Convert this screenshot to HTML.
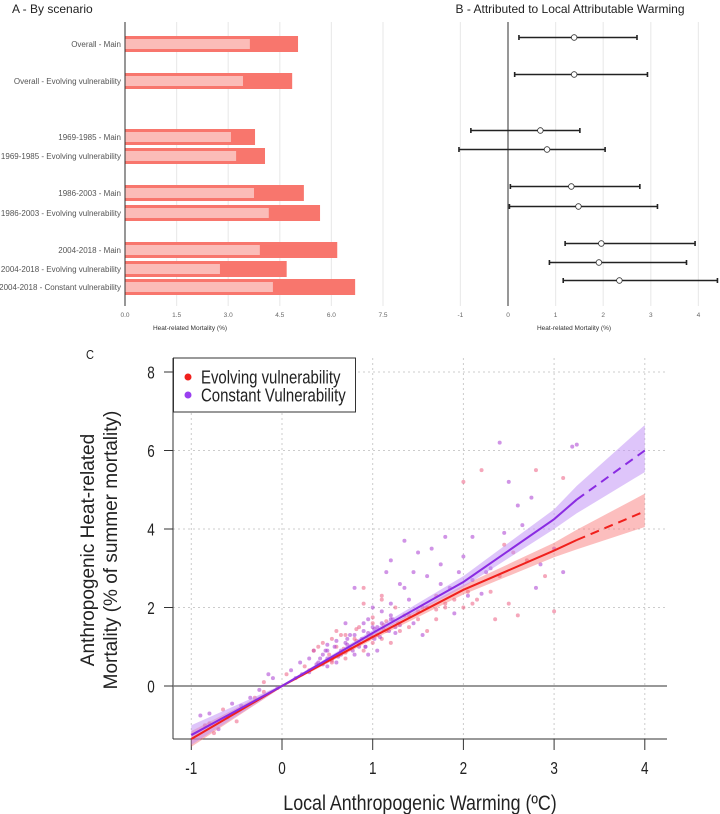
<!DOCTYPE html>
<html><head><meta charset="utf-8">
<style>
html,body{margin:0;padding:0;background:#fff;overflow:hidden;}
svg{display:block;font-family:"Liberation Sans",sans-serif;}
</style></head>
<body>
<svg id="chart" width="720" height="814" viewBox="0 0 720 814" xmlns="http://www.w3.org/2000/svg">
  <g id="pa"></g>
  <g id="pb"></g>
  <g id="pc"></g>
</svg>
<script>
// ---- Panel A data ----
const scenarioLabels = ["Overall - Main","Overall - Evolving vulnerability","1969-1985 - Main","1969-1985 - Evolving vulnerability","1986-2003 - Main","1986-2003 - Evolving vulnerability","2004-2018 - Main","2004-2018 - Evolving vulnerability","2004-2018 - Constant vulnerability"];
const totalMortality = [5.03,4.86,3.78,4.07,5.2,5.67,6.17,4.7,6.69];
const attribMortality = [3.63,3.43,3.08,3.23,3.75,4.18,3.92,2.76,4.3];
const aTicks = ["0.0","1.5","3.0","4.5","6.0","7.5"];
// ---- Panel B data ----
const bMid = [1.39,1.39,0.68,0.82,1.33,1.48,1.96,1.91,2.34];
const bLo = [0.23,0.14,-0.78,-1.03,0.05,0.03,1.2,0.87,1.16];
const bHi = [2.71,2.93,1.51,2.04,2.77,3.14,3.93,3.75,4.4];
const bTicks = [-1,0,1,2,3,4];
// ---- Panel C data ----
const cTicksX = [-1,0,1,2,3,4];
const cTicksY = [0,2,4,6,8];
const evoX = [-1,0,1,2,3,3.25,4];
const evoY = [-1.35,0,1.25,2.45,3.45,3.72,4.45];
const evoLo = [-1.55,-0.03,1.18,2.33,3.28,3.48,4.05];
const evoHi = [-1.15,0.03,1.32,2.57,3.65,3.98,4.9];
const conX = [-1,0,1,2,3,3.25,4];
const conY = [-1.25,0,1.35,2.65,4.25,4.75,6.0];
const conLo = [-1.5,-0.03,1.28,2.52,4.0,4.4,5.45];
const conHi = [-1.0,0.03,1.42,2.8,4.5,5.1,6.65];
const ptX = [-0.85,-0.8,-0.75,-0.7,-0.65,-0.6,-0.5,-0.45,-0.3,-0.25,-0.2,-0.15,-0.1,0.05,0.1,0.2,0.25,0.3,0.3,0.35,0.4,0.4,0.45,0.45,0.5,0.5,0.55,0.55,0.6,0.6,0.6,0.65,0.65,0.7,0.7,0.7,0.75,0.75,0.8,0.8,0.8,0.85,0.85,0.9,0.9,0.9,0.95,0.95,1.0,1.0,1.0,1.05,1.05,1.1,1.1,1.1,1.15,1.15,1.2,1.2,1.2,1.25,1.25,1.3,1.3,1.35,1.35,1.4,1.4,1.45,1.5,1.5,1.55,1.6,1.6,1.65,1.7,1.7,1.75,1.8,1.8,1.85,1.9,1.95,2.0,2.0,2.05,2.1,2.1,2.15,2.2,2.25,2.3,2.3,2.35,2.4,2.4,2.45,2.5,2.5,2.55,2.6,2.6,2.65,2.7,2.75,2.8,2.85,2.9,3.0,3.0,3.1,3.2,3.25,2.0,2.05,2.45,2.8,3.1,0.7,0.85,1.1,1.2,1.35,0.55,0.65,1.0,1.55,1.75,0.35,0.5,0.9,1.2,0.95,
 0.42,0.48,0.52,0.58,0.62,0.68,0.72,0.78,0.82,0.88,0.92,0.98,1.02,1.08,1.12,1.18,1.22,1.28,0.45,0.55,0.65,0.75,0.85,0.95,1.05,1.15,1.25,0.5,0.6,0.7,0.8,0.9,1.0,1.1,1.3,1.4,1.45,1.5,1.6,1.7,0.62,0.72,0.82,0.92,1.02,1.12,0.3,0.38,-0.05,-0.2,-0.35,-0.55,-0.9,-0.8,0.15,0.22,1.8,1.9,2.1,2.2];
const ptY = [-1.0,-0.7,-1.2,-1.1,-0.6,-0.8,-0.9,-0.5,-0.3,-0.1,0.1,0.3,0.2,0.3,0.4,0.6,0.5,0.7,0.4,0.9,0.6,1.0,0.8,1.1,0.9,0.5,1.2,0.7,1.0,0.6,1.4,0.9,1.3,1.1,0.7,1.6,1.0,1.3,1.2,0.8,2.5,1.5,1.1,1.4,2.1,0.9,1.7,1.2,1.5,1.1,2.0,1.3,0.9,1.6,2.3,1.2,2.9,1.4,3.2,1.7,1.1,2.0,1.5,1.4,2.6,3.7,1.8,2.2,1.5,2.9,1.9,3.4,2.0,1.4,2.8,3.5,2.3,1.7,2.6,3.8,2.1,2.5,2.2,2.9,3.3,2.0,2.4,3.8,2.7,2.2,5.5,2.9,2.4,3.0,1.7,6.2,2.8,3.9,2.1,5.2,3.4,4.6,1.8,4.1,3.2,4.8,5.5,3.1,2.8,1.9,3.5,5.3,6.1,6.15,5.2,2.3,3.6,2.5,2.9,1.3,1.0,2.2,1.8,2.5,0.6,0.8,1.6,1.3,3.1,0.9,0.7,2.5,2.1,0.8,
 0.7,0.9,0.8,1.0,0.75,0.95,1.05,0.9,1.15,1.2,1.0,1.3,1.45,1.25,1.55,1.4,1.7,1.6,0.55,0.65,0.85,0.95,1.1,1.35,1.5,1.65,1.35,1.05,1.15,0.85,1.3,1.6,1.75,1.9,1.55,1.8,1.6,1.7,2.0,1.95,0.8,1.2,1.45,1.0,1.2,1.45,0.35,0.55,-0.05,-0.15,-0.3,-0.45,-0.75,-0.95,0.2,0.3,2.0,1.85,2.1,2.35];
const ptG = ["e","c","e","c","e","c","e","c","e","c","e","c","c","e","c","c","e","c","e","c","c","e","c","e","c","c","e","c","e","c","e","c","e","c","e","c","e","c","e","c","c","e","c","c","e","e","c","e","c","e","c","e","c","c","e","e","c","e","c","c","e","e","c","e","c","c","e","c","e","c","e","c","e","e","c","c","e","e","c","c","e","c","e","c","c","e","e","c","c","e","e","c","e","c","e","c","e","c","e","c","e","c","e","c","e","c","e","c","e","e","c","e","c","c","e","c","e","c","c","e","c","e","c","c","e","c","e","c","c","e","c","e","c","c",
 "c","c","e","c","c","e","c","c","e","c","c","e","c","c","e","c","c","e","c","e","c","c","e","c","c","e","c","c","c","e","c","c","e","c","c","e","c","e","c","e","c","c","e","c","c","e","c","c","c","e","c","c","c","e","c","c","e","c","e","c"];

const NS="http://www.w3.org/2000/svg";
function mk(parent,tag,attrs,text){const e=document.createElementNS(NS,tag);for(const k in attrs)e.setAttribute(k,attrs[k]);if(text!==undefined)e.textContent=text;parent.appendChild(e);return e;}

const rowY=[44,81,137,156,193,213,250,269,287];

// ---- Panel A ----
const pa=document.getElementById('pa');
const ax=v=>125+v*34.4;
let t=mk(pa,'text',{x:12,y:13,'font-size':12,fill:'#222'},"A - By scenario");


aTicks.forEach(s=>{const v=parseFloat(s);
  let g=mk(pa,'line',{x1:ax(v),x2:ax(v),y1:22,y2:306,stroke:'#ebebeb','stroke-width':1.2});
  
  
  let l=mk(pa,'text',{x:ax(v),y:317,'font-size':6.5,fill:'#666','text-anchor':'middle'},s);
  
  
});
scenarioLabels.forEach((s,i)=>{
  let b=mk(pa,'rect',{x:ax(0),y:rowY[i]-8,width:ax(totalMortality[i])-ax(0),height:16,fill:'#f8766d'});
  
  
  let b2=mk(pa,'rect',{x:ax(0),y:rowY[i]-5,width:ax(attribMortality[i])-ax(0),height:10,fill:'#fbbcb8'});
  
  
  let l=mk(pa,'text',{x:121,y:rowY[i]+3,'font-size':8,fill:'#555','text-anchor':'end'},s);
  
  
});
let al=mk(pa,'line',{x1:125,x2:125,y1:22,y2:306,stroke:'#333','stroke-width':1});


t=mk(pa,'text',{x:190,y:330,'font-size':6.5,fill:'#333','text-anchor':'middle'},"Heat-related Mortality (%)");



// ---- Panel B ----
const pb=document.getElementById('pb');
const bx=v=>508+v*47.6;
t=mk(pb,'text',{x:570,y:13,'font-size':12,fill:'#222','text-anchor':'middle'},"B - Attributed to Local Attributable Warming");


bTicks.forEach(v=>{
  let g=mk(pb,'line',{x1:bx(v),x2:bx(v),y1:22,y2:306,stroke:'#ebebeb','stroke-width':1.2});
  
  
  let l=mk(pb,'text',{x:bx(v),y:317,'font-size':6.5,fill:'#666','text-anchor':'middle'},String(v));
  
  
});
let bl=mk(pb,'line',{x1:bx(0),x2:bx(0),y1:22,y2:306,stroke:'#333','stroke-width':1});


bMid.forEach((m,i)=>{
  const y=rowY[i]-6.5;
  let e=mk(pb,'path',{d:`M${bx(bLo[i])},${y}H${bx(bHi[i])}M${bx(bLo[i])},${y-2.5}V${y+2.5}M${bx(bHi[i])},${y-2.5}V${y+2.5}`,stroke:'#222','stroke-width':1.6,fill:'none'});
  
  
  let c=mk(pb,'circle',{cx:bx(m),cy:y,r:2.8,fill:'#fff',stroke:'#333','stroke-width':0.8});
  
  
});
t=mk(pb,'text',{x:574,y:330,'font-size':6.5,fill:'#333','text-anchor':'middle'},"Heat-related Mortality (%)");



// ---- Panel C ----
const pc=document.getElementById('pc');
const cx=v=>282+v*90.7;
const cy=v=>686-v*39.25;
const TOP=358, BOT=739, LEFT=173, RIGHT=667;
function ctext(x,y,size,str,anchor,sx){
  return mk(pc,'text',{x:0,y:0,'font-size':size,fill:'#222','text-anchor':anchor,transform:`translate(${x},${y}) scale(${sx},1)`},str);
}
t=ctext(90,359,13,"C",'middle',0.85);


cTicksX.forEach(v=>{
  let g=mk(pc,'line',{x1:cx(v),x2:cx(v),y1:TOP,y2:BOT,stroke:'#ccc','stroke-width':1,'stroke-dasharray':'2,3'});
  
  
  let tk=mk(pc,'line',{x1:cx(v),x2:cx(v),y1:BOT,y2:750,stroke:'#333','stroke-width':1});
  
  
  let l=ctext(cx(v),774,18,String(v),'middle',0.75);
  
  
});
cTicksY.forEach(v=>{
  if(v!==0){let g=mk(pc,'line',{x1:LEFT,x2:RIGHT,y1:cy(v),y2:cy(v),stroke:'#ccc','stroke-width':1,'stroke-dasharray':'2,3'});
  
  }
  let tk=mk(pc,'line',{x1:LEFT,x2:164,y1:cy(v),y2:cy(v),stroke:'#333','stroke-width':1});
  
  
  let l=ctext(151,cy(v)+6.5,18,String(v),'middle',0.75);
  
  
});
let ya=mk(pc,'line',{x1:LEFT,x2:LEFT,y1:TOP,y2:BOT,stroke:'#333','stroke-width':1});


let xa=mk(pc,'line',{x1:LEFT,x2:RIGHT,y1:BOT,y2:BOT,stroke:'#333','stroke-width':1});


let zl=mk(pc,'line',{x1:LEFT,x2:RIGHT,y1:cy(0),y2:cy(0),stroke:'#777','stroke-width':1.6});


ptX.forEach((x,i)=>{
  let p=mk(pc,'circle',{cx:cx(x),cy:cy(ptY[i]),r:2,fill:ptG[i]==='e'?'rgba(235,80,120,0.5)':'rgba(170,60,210,0.55)'});
  
  
});
function band(xs,lo,hi,fill,name){
  let d='M'+xs.map((x,i)=>cx(x)+','+cy(hi[i])).join('L')+'L'+xs.map((x,i)=>cx(x)+','+cy(lo[i])).reverse().join('L')+'Z';
  let b=mk(pc,'path',{d:d,fill:fill});
  
  
}
band(evoX,evoLo,evoHi,'rgba(248,110,110,0.45)','band-evolving');
band(conX,conLo,conHi,'rgba(190,140,245,0.5)','band-constant');
function line(xs,ys,col,name){
  const n=xs.length;
  let d='M'+xs.slice(0,n-1).map((x,i)=>cx(x)+','+cy(ys[i])).join('L');
  let s=mk(pc,'path',{d:d,stroke:col,'stroke-width':2,fill:'none'});
  
  
  let ds=mk(pc,'path',{d:`M${cx(xs[n-2])},${cy(ys[n-2])}L${cx(xs[n-1])},${cy(ys[n-1])}`,stroke:col,'stroke-width':2,fill:'none','stroke-dasharray':'9,6'});
  
  
}
line(evoX,evoY,'#f0201c','evolving');
line(conX,conY,'#8a2be2','constant');
let lg=mk(pc,'g',{});


mk(lg,'rect',{x:173.5,y:358,width:182,height:54,fill:'#fff',stroke:'#333','stroke-width':1});
let c1=mk(lg,'circle',{cx:188,cy:377,r:3.5,fill:'#f0201c'});


let t1=mk(lg,'text',{x:0,y:0,'font-size':18,fill:'#222',transform:'translate(201,383.5) scale(0.83,1)'},"Evolving vulnerability");


let c2=mk(lg,'circle',{cx:188,cy:395,r:3.5,fill:'#9a3ff0'});


let t2=mk(lg,'text',{x:0,y:0,'font-size':18,fill:'#222',transform:'translate(201,401.5) scale(0.83,1)'},"Constant Vulnerability");


t=ctext(420,810,21,"Local Anthropogenic Warming (ºC)",'middle',0.85);


t=mk(pc,'text',{x:0,y:0,'font-size':19,fill:'#222','text-anchor':'middle',transform:'translate(94,550) rotate(-90)'},"Anthropogenic Heat-related");


t=mk(pc,'text',{x:0,y:0,'font-size':19,fill:'#222','text-anchor':'middle',transform:'translate(117,550) rotate(-90)'},"Mortality (% of summer mortality)");


</script>
</body></html>
